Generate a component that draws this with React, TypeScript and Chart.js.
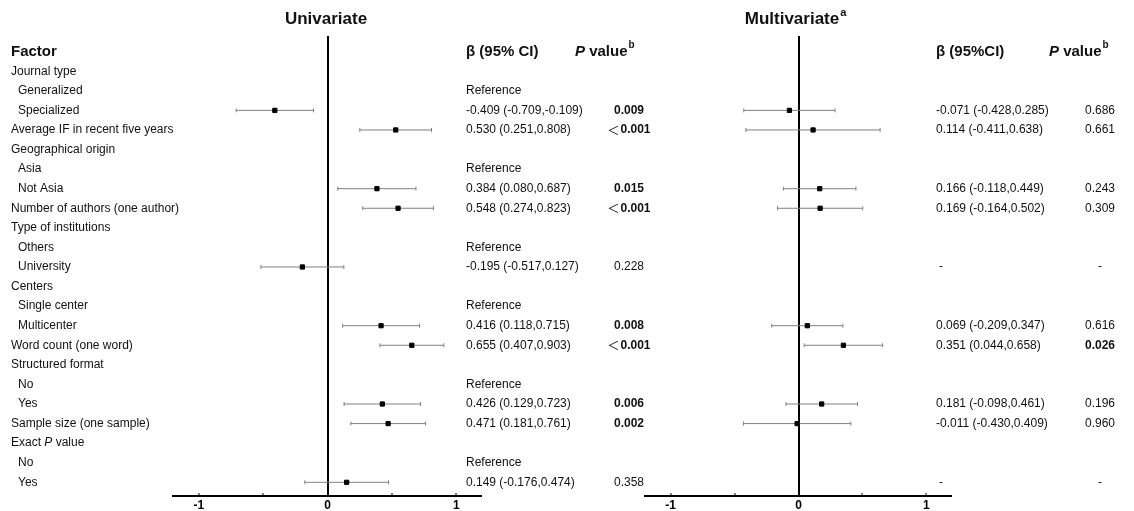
import React, { useEffect, useRef } from "react";
import { Chart, registerables } from "chart.js";
Chart.register(...registerables);

const FONT = '"Liberation Sans", Arial, Helvetica, sans-serif';

// ---------- data ----------
const factorLabels = [
  "Journal type", "Generalized", "Specialized", "Average IF in recent five years",
  "Geographical origin", "Asia", "Not Asia", "Number of authors (one author)",
  "Type of institutions", "Others", "University", "Centers", "Single center",
  "Multicenter", "Word count (one word)", "Structured format", "No", "Yes",
  "Sample size (one sample)", "Exact P value", "No", "Yes",
];
const factorIndent = [0, 1, 1, 0, 0, 1, 1, 0, 0, 1, 1, 0, 1, 1, 0, 0, 1, 1, 0, 0, 1, 1];
const referenceRows = [1, 5, 9, 12, 16, 20];

const uniBeta = [null, null, -0.409, 0.530, null, null, 0.384, 0.548, null, null, -0.195, null, null, 0.416, 0.655, null, null, 0.426, 0.471, null, null, 0.149];
const uniLower = [null, null, -0.709, 0.251, null, null, 0.080, 0.274, null, null, -0.517, null, null, 0.118, 0.407, null, null, 0.129, 0.181, null, null, -0.176];
const uniUpper = [null, null, -0.109, 0.808, null, null, 0.687, 0.823, null, null, 0.127, null, null, 0.715, 0.903, null, null, 0.723, 0.761, null, null, 0.474];
const uniP = ["", "", "0.009", "<0.001", "", "", "0.015", "<0.001", "", "", "0.228", "", "", "0.008", "<0.001", "", "", "0.006", "0.002", "", "", "0.358"];

const multiBeta = [null, null, -0.071, 0.114, null, null, 0.166, 0.169, null, null, null, null, null, 0.069, 0.351, null, null, 0.181, -0.011, null, null, null];
const multiLower = [null, null, -0.428, -0.411, null, null, -0.118, -0.164, null, null, null, null, null, -0.209, 0.044, null, null, -0.098, -0.430, null, null, null];
const multiUpper = [null, null, 0.285, 0.638, null, null, 0.449, 0.502, null, null, null, null, null, 0.347, 0.658, null, null, 0.461, 0.409, null, null, null];
const multiP = ["", "", "0.686", "0.661", "", "", "0.243", "0.309", "", "", "-", "", "", "0.616", "0.026", "", "", "0.196", "0.960", "", "", "-"];

const xLabelTicks = [-1, 0, 1];
const X_MIN = -1.2;
const X_MAX = 1.2;
const ROW_MIN = -1.8;
const ROW_MAX = 21.7;

// ---------- layout ----------
const W = 1134;
const CANVAS_H = 530;
const PLOT_TOP = 36;
const AXIS_Y = 496;

type Panel = {
  beta: (number | null)[];
  lower: (number | null)[];
  upper: (number | null)[];
  pvals: string[];
  showRef: boolean;
  showFactors: boolean;
  plotLeft: number;
  plotRight: number;
  betaX: number;
  pCenterX: number;
  pHeaderX: number;
  betaHeader: string;
  title: string;
  titleSup: string;
  titleX: number;
};

const panels: Panel[] = [
  {
    beta: uniBeta, lower: uniLower, upper: uniUpper, pvals: uniP,
    showRef: true, showFactors: true,
    plotLeft: 173, plotRight: 482, betaX: 466, pCenterX: 629, pHeaderX: 575,
    betaHeader: "β (95% CI)", title: "Univariate", titleSup: "", titleX: 326,
  },
  {
    beta: multiBeta, lower: multiLower, upper: multiUpper, pvals: multiP,
    showRef: false, showFactors: false,
    plotLeft: 645, plotRight: 952, betaX: 936, pCenterX: 1100, pHeaderX: 1049,
    betaHeader: "β (95%CI)", title: "Multivariate", titleSup: "a", titleX: 792,
  },
];

const fmt = (v: number) => v.toFixed(3);

function textPlugin(p: Panel) {
  return {
    id: "forestText",
    afterDraw(chart: any) {
      const ctx = chart.ctx as CanvasRenderingContext2D;
      const ys = chart.scales.y;
      ctx.save();
      ctx.fillStyle = "#111";
      ctx.textBaseline = "middle";

      // title
      ctx.font = `bold 17px ${FONT}`;
      ctx.textAlign = "center";
      ctx.fillText(p.title, p.titleX, 19);
      if (p.titleSup) {
        const tw = ctx.measureText(p.title).width;
        ctx.font = `bold 11px ${FONT}`;
        ctx.textAlign = "left";
        ctx.fillText(p.titleSup, p.titleX + tw / 2 + 1, 13);
      }

      const hy = ys.getPixelForValue(-1);
      // headers
      ctx.textAlign = "left";
      if (p.showFactors) {
        ctx.font = `bold 15px ${FONT}`;
        ctx.fillText("Factor", 11, hy);
      }
      ctx.font = `bold 15px ${FONT}`;
      ctx.fillText(p.betaHeader, p.betaX, hy);
      let x = p.pHeaderX;
      ctx.font = `italic bold 15px ${FONT}`;
      ctx.fillText("P", x, hy);
      x += ctx.measureText("P ").width;
      ctx.font = `bold 15px ${FONT}`;
      ctx.fillText("value", x, hy);
      x += ctx.measureText("value").width + 1;
      ctx.font = `bold 10px ${FONT}`;
      ctx.fillText("b", x, hy - 6);

      for (let r = 0; r < factorLabels.length; r++) {
        const y = ys.getPixelForValue(r);
        // factor labels
        if (p.showFactors) {
          const lx = 11 + factorIndent[r] * 7;
          ctx.font = `12px ${FONT}`;
          ctx.textAlign = "left";
          const lab = factorLabels[r];
          if (lab === "Exact P value") {
            let xx = lx;
            ctx.fillText("Exact ", xx, y);
            xx += ctx.measureText("Exact ").width;
            ctx.font = `italic 12px ${FONT}`;
            ctx.fillText("P", xx, y);
            xx += ctx.measureText("P").width;
            ctx.font = `12px ${FONT}`;
            ctx.fillText(" value", xx, y);
          } else {
            ctx.fillText(lab, lx, y);
          }
        }
        // beta column
        ctx.font = `12px ${FONT}`;
        ctx.textAlign = "left";
        const b = p.beta[r];
        if (b !== null) {
          ctx.fillText(`${fmt(b)} (${fmt(p.lower[r] as number)},${fmt(p.upper[r] as number)})`, p.betaX, y);
        } else if (p.showRef && referenceRows.includes(r)) {
          ctx.fillText("Reference", p.betaX, y);
        } else if (p.pvals[r] === "-") {
          ctx.fillText("-", p.betaX + 3, y);
        }
        // p column
        const pv = p.pvals[r];
        if (pv) {
          if (pv === "-") {
            ctx.font = `12px ${FONT}`;
            ctx.textAlign = "center";
            ctx.fillText("-", p.pCenterX, y);
          } else {
            const less = pv.startsWith("<");
            const num = less ? pv.slice(1) : pv;
            const sig = parseFloat(num) < 0.05;
            const numFont = `${sig ? "bold " : ""}12px ${FONT}`;
            ctx.textAlign = "left";
            ctx.font = numFont;
            const nw = ctx.measureText(num).width;
            let lw = 0;
            if (less) {
              ctx.font = `12px "Noto Sans CJK SC", ${FONT}`;
              lw = ctx.measureText("＜").width + 1;
            }
            let sx = p.pCenterX - (nw + lw) / 2;
            if (less) {
              ctx.fillText("＜", sx, y);
              sx += lw;
            }
            ctx.font = numFont;
            ctx.fillText(num, sx, y);
          }
        }
      }
      ctx.restore();
    },
  };
}

function buildChart(canvas: HTMLCanvasElement, p: Panel) {
  const rows = p.beta.map((_, i) => i).filter((i) => p.beta[i] !== null);
  const squares = rows.map((r) => ({ x: p.beta[r] as number, y: r }));
  const whiskers: any[] = [];
  const caps: any[] = [];
  rows.forEach((r) => {
    whiskers.push({ x: p.lower[r], y: r }, { x: p.upper[r], y: r }, { x: null, y: null });
    caps.push({ x: p.lower[r], y: r }, { x: p.upper[r], y: r });
  });
  const axisH = -3 + 12 * 1.2 + 2 * 5;
  return new Chart(canvas, {
    type: "scatter",
    data: {
      datasets: [
        {
          data: squares,
          pointStyle: "rect",
          pointRadius: 3,
          backgroundColor: "#000",
          borderColor: "#000",
          borderWidth: 1,
        },
        {
          data: caps,
          pointStyle: "line",
          rotation: 90,
          pointRadius: 2,
          borderColor: "#808080",
          borderWidth: 1,
        },
        {
          data: whiskers,
          showLine: true,
          spanGaps: false,
          pointRadius: 0,
          borderColor: "#808080",
          borderWidth: 1,
        },
      ] as any,
    },
    options: {
      responsive: false,
      animation: false,
      devicePixelRatio: 1,
      layout: {
        padding: {
          left: p.plotLeft,
          right: W - p.plotRight,
          top: PLOT_TOP,
          bottom: CANVAS_H - AXIS_Y - axisH,
        },
      },
      plugins: { legend: { display: false }, tooltip: { enabled: false } },
      scales: {
        x: {
          type: "linear",
          position: "bottom",
          min: X_MIN,
          max: X_MAX,
          ticks: {
            stepSize: 0.5,
            includeBounds: false,
            autoSkip: false,
            maxRotation: 0,
            padding: 5,
            color: "#000",
            font: { family: FONT, size: 12, weight: "bold" },
            callback: (v: any) => (xLabelTicks.includes(Number(v)) ? String(v) : ""),
          },
          grid: {
            drawOnChartArea: true,
            color: (c: any) => (c.tick && c.tick.value === 0 ? "#000" : "rgba(0,0,0,0)"),
            lineWidth: (c: any) => (c.tick && c.tick.value === 0 ? 2 : 0),
            tickLength: -3,
            tickColor: "#000",
            tickWidth: 1,
          },
          border: { display: true, color: "#000", width: 2 },
        },
        y: {
          type: "linear",
          reverse: true,
          min: ROW_MIN,
          max: ROW_MAX,
          display: false,
        },
      },
    } as any,
    plugins: [textPlugin(p)],
  });
}

export default function App() {
  const leftRef = useRef<HTMLCanvasElement>(null);
  const rightRef = useRef<HTMLCanvasElement>(null);
  useEffect(() => {
    const charts: Chart[] = [];
    if (leftRef.current) charts.push(buildChart(leftRef.current, panels[0]));
    if (rightRef.current) charts.push(buildChart(rightRef.current, panels[1]));
    return () => charts.forEach((c) => c.destroy());
  }, []);
  const cstyle: React.CSSProperties = { position: "absolute", left: 0, top: 0, width: W, height: CANVAS_H };
  return (
    <div style={{ position: "absolute", left: 0, top: 0, width: W, height: 511, overflow: "hidden", background: "#fff" }}>
      <canvas ref={leftRef} width={W} height={CANVAS_H} style={cstyle} />
      <canvas ref={rightRef} width={W} height={CANVAS_H} style={cstyle} />
    </div>
  );
}
